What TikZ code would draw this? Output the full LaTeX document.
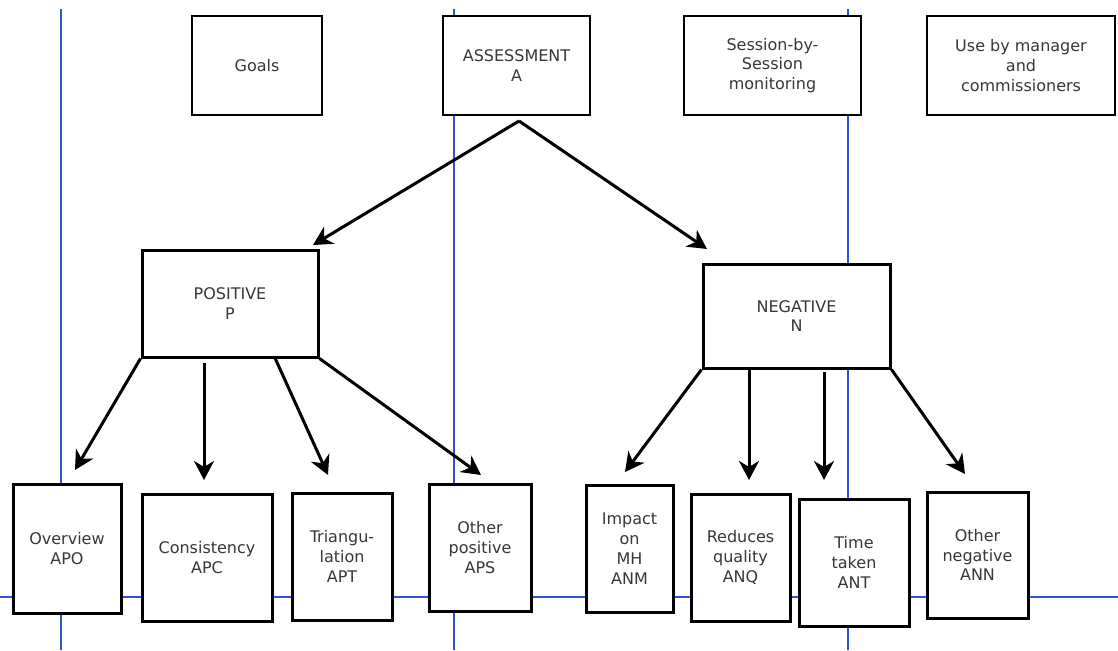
\documentclass[tikz,border=0pt]{standalone}
\usepackage{fontspec}
\setmainfont{DejaVu Sans}
\usepackage{tikz}
\usetikzlibrary{arrows.meta}
\definecolor{gridblue}{RGB}{50,80,210}
\definecolor{txtgray}{RGB}{55,55,55}
\tikzset{
  topbox/.style={draw, line width=2pt, fill=white, align=center, inner sep=0pt,
                 text=txtgray, font=\fontsize{16}{19.8}\selectfont},
  box/.style={topbox, line width=3pt},
  arr/.style={-{Stealth[length=19pt,width=20pt,inset=6pt]}, line width=3pt}
}
\begin{document}
\begin{tikzpicture}[x=1pt,y=-1pt]
\useasboundingbox (0,0) rectangle (1118,650);
% guide lines
\foreach \x in {61,454,848}
  \draw[gridblue, line width=1.3pt] (\x,9) -- (\x,650);
\draw[gridblue, line width=1.3pt] (0,597) -- (1118,597);

% top row
\foreach \nm/\cx/\bw/\txt in {goals/257/130/Goals,
    assess/516.5/147/{ASSESSMENT\\A},
    session/772.5/177/{Session-by-\\Session\\monitoring},
    usebox/1021/188/{Use by manager\\and\\commissioners}}
  \node[topbox, minimum width=\bw, minimum height=99] (\nm) at (\cx,65.5) {\txt};

% middle
\node[box, minimum width=176, minimum height=107] (pos) at (230,303.5) {POSITIVE\\P};
\node[box, minimum width=187, minimum height=104] (neg) at (796.5,316) {NEGATIVE\\N};

% bottom row
\foreach \nm/\cx/\cy/\bw/\bh/\txt in {apo/67/548.5/108/129/{Overview\\APO},
    apc/207/557.5/130/127/{Consistency\\APC},
    apt/342/556.5/100/127/{Triangu-\\lation\\APT},
    aps/480/547.5/102/127/{Other\\positive\\APS},
    anm/629.5/548.5/87/127/{Impact\\on\\MH\\ANM},
    anq/740.5/557.5/99/127/{Reduces\\quality\\ANQ},
    ant/854/562.5/110/127/{Time\\taken\\ANT},
    ann/977.5/555/101/126/{Other\\negative\\ANN}}
  \node[box, minimum width=\bw, minimum height=\bh] (\nm) at (\cx,\cy) {\txt};

% arrow ends
\coordinate (apex) at (519,121);
\coordinate (p2) at (204,363);
\coordinate (p3) at (275,358);
\coordinate (n2) at (749,368);
\coordinate (n3) at (824,372);
\foreach \nm/\x/\y in {tpos/313/245, tneg/707/249,
    tapo/75/470, tapc/204/480, tapt/328/475, taps/481/475,
    tanm/625/472, tanq/749/480, tant/824/480, tann/965/474}
  \coordinate (\nm) at (\x,\y);

\draw[arr] (apex) -- (tpos);
\draw[arr] (apex) -- (tneg);
\draw[arr] (pos.south west) -- (tapo);
\draw[arr] (p2) -- (tapc);
\draw[arr] (p3) -- (tapt);
\draw[arr] (pos.south east) -- (taps);
\draw[arr] (neg.south west) -- (tanm);
\draw[arr] (n2) -- (tanq);
\draw[arr] (n3) -- (tant);
\draw[arr] (neg.south east) -- (tann);
\end{tikzpicture}
\end{document}
